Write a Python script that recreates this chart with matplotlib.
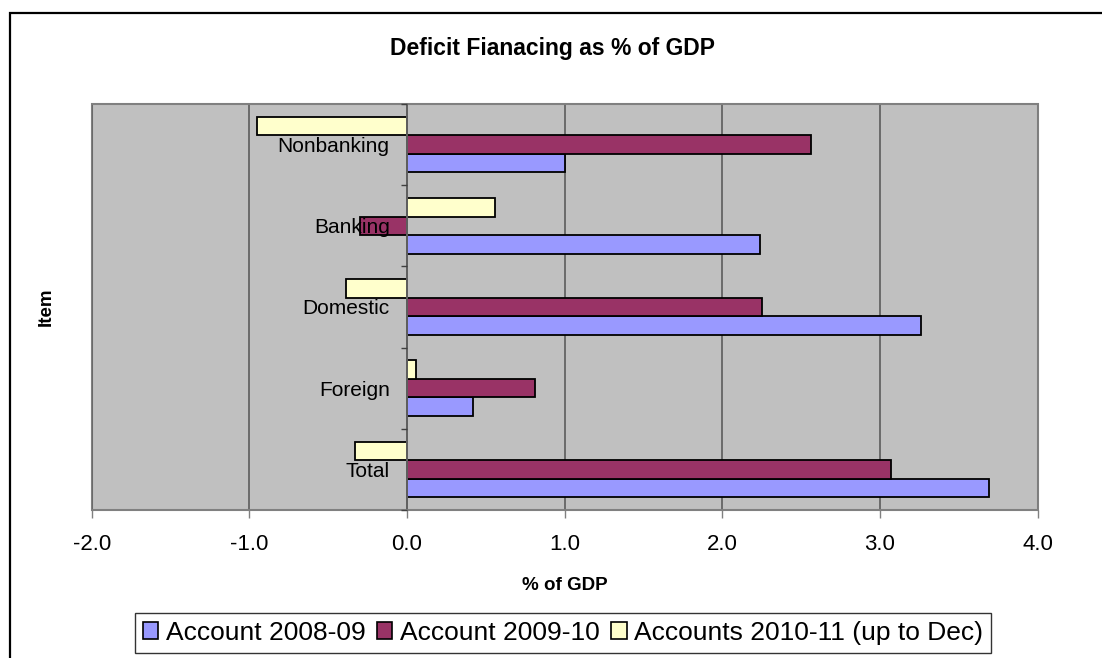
import matplotlib.pyplot as plt
from matplotlib.patches import Patch, Rectangle
from matplotlib.ticker import FormatStrFormatter, MultipleLocator
import numpy as np

plt.rcParams['font.family'] = ['Liberation Sans', 'DejaVu Sans']

categories = ['Total', 'Foreign', 'Domestic', 'Banking', 'Nonbanking']
account_0809 = [3.69, 0.42, 3.26, 2.24, 1.00]
account_0910 = [3.07, 0.81, 2.25, -0.30, 2.56]
account_1011 = [-0.33, 0.06, -0.39, 0.56, -0.95]
series_names = ['Account 2008-09', 'Account 2009-10', 'Accounts 2010-11 (up to Dec)']
colours = ['#9999FF', '#993366', '#FFFFCC']

W, H = 1102, 658
fig = plt.figure(figsize=(W / 100, H / 100), dpi=100)
ax = fig.add_axes([91.7 / W, 1 - 510 / H, (1037.7 - 91.7) / W, (510 - 104) / H])

# outer chart border (cut off at right and bottom, like the source)
fig.patches.append(Rectangle((10 / W, -0.2), 1.5, 1.2 - 12.7 / H, transform=fig.transFigure,
                             fill=False, edgecolor='black', linewidth=1.6))

y = np.arange(len(categories))
h = 0.228
for i, vals in enumerate([account_0809, account_0910, account_1011]):
    ax.barh(y + (i - 1) * h, vals, height=h, color=colours[i], edgecolor='black',
            linewidth=1.3, zorder=2)

ax.set_facecolor('#C0C0C0')
ax.patch.set_edgecolor('#808080')
ax.patch.set_linewidth(1.5)
ax.set_xlim(-2, 4)
ax.set_ylim(-0.5, len(categories) - 0.5)

ax.xaxis.set_major_locator(MultipleLocator(1))
ax.xaxis.set_major_formatter(FormatStrFormatter('%.1f'))
ax.xaxis.grid(True, color='#6a6a6a', linewidth=1.4)
ax.xaxis.set_zorder(0.5)
ax.yaxis.set_zorder(3)
ax.tick_params(axis='x', length=6, width=1, color='#808080', pad=11, labelsize=16)

ax.spines['left'].set_position(('data', 0))
for s in ['top', 'right', 'bottom']:
    ax.spines[s].set_color('#808080')
    ax.spines[s].set_linewidth(1.3)
ax.spines['left'].set_color('#606060')
ax.spines['left'].set_linewidth(1.4)

ax.set_yticks(y)
ax.set_yticklabels(categories)
ax.set_yticks(np.arange(-0.5, len(categories)), minor=True)
ax.tick_params(axis='y', which='major', length=0, pad=12.5, labelsize=15)
ax.tick_params(axis='y', which='minor', length=4, width=1, color='#404040')

ax.set_xlabel('% of GDP', fontsize=13.5, fontweight='bold', labelpad=16)
ax.set_ylabel('Item', fontsize=13.5, fontweight='bold')
ax.yaxis.set_label_coords(-0.039, 0.5)

fig.text(553 / W, 1 - 48 / H, 'Deficit Fianacing as % of GDP', ha='center', va='center',
         fontsize=16.5, fontweight='bold')

handles = [Patch(facecolor=c, edgecolor='black', linewidth=1.2) for c in colours]
leg = fig.legend(handles, series_names, loc='upper center', bbox_to_anchor=(563 / W, 1 - 613 / H),
                 ncol=3, fontsize=19, frameon=True, fancybox=False, borderpad=0.3,
                 borderaxespad=0, handlelength=0.6, handleheight=0.6, handletextpad=0.3,
                 columnspacing=0.4)
leg.get_frame().set_edgecolor('black')
leg.get_frame().set_linewidth(1.0)

fig.savefig('out.png', dpi=100)
